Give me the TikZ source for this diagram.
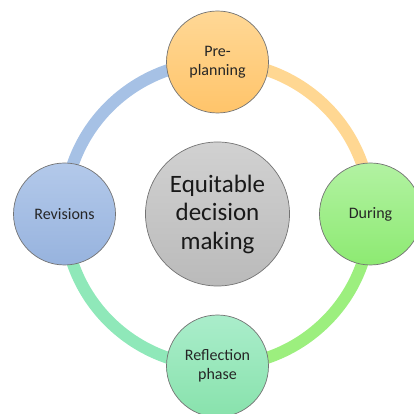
\documentclass[tikz,border=0pt]{standalone}
\usepackage{fontspec}
\setmainfont{Carlito}
\usetikzlibrary{backgrounds}
\definecolor{blueA}{HTML}{B3C9EA}
\definecolor{blueB}{HTML}{97B3DE}
\definecolor{orangeA}{HTML}{FFD896}
\definecolor{orangeB}{HTML}{FFC46A}
\definecolor{greenA}{HTML}{B2F2A2}
\definecolor{greenB}{HTML}{8DEA72}
\definecolor{mintA}{HTML}{AAEDCB}
\definecolor{mintB}{HTML}{88E2AC}
\definecolor{ringblue}{HTML}{A6C1E5}
\definecolor{ringorange}{HTML}{FFD792}
\definecolor{ringgreen}{HTML}{9CEF7E}
\definecolor{ringmint}{HTML}{8FE8B9}
\tikzset{phase/.style={circle, draw=black!55, line width=0.7pt, minimum size=102pt, inner sep=0pt, align=center, text=black!85, font=\fontsize{16}{19.5}\selectfont},
  ring/.style={line width=12pt}}

\begin{document}
\begin{tikzpicture}[x=1pt,y=1pt]
		\useasboundingbox (0,0) rectangle (414,414);
		\node[phase, top color=orangeA, bottom color=orangeB] (pre) at (217.5,352) {Pre-\\planning};
		\node[phase, top color=greenA, bottom color=greenB] (dur) at (370.5,200) {During};
		\node[phase, top color=mintA, bottom color=mintB] (refl) at (217.5,48) {Reflection\\phase};
		\node[phase, top color=blueA, bottom color=blueB] (rev) at (64.5,200) {Revisions};
		\node[circle, draw=black!55, line width=0.7pt, minimum size=144pt, inner sep=0pt, align=center, text=black!90, top color=black!18, bottom color=black!27, font=\fontsize{25}{28.5}\selectfont] (eq) at (217.5,200) {Equitable\\decision\\making};
		\begin{scope}[on background layer]
		\draw[ring, ringblue] (rev.center) to[out=90, in=180] (pre.center);
		\draw[ring, ringorange] (pre.center) to[out=0, in=90] (dur.center);
		\draw[ring, ringgreen] (dur.center) to[out=-90, in=0] (refl.center);
		\draw[ring, ringmint] (refl.center) to[out=180, in=-90] (rev.center);
		\end{scope}
\end{tikzpicture}
\end{document}
